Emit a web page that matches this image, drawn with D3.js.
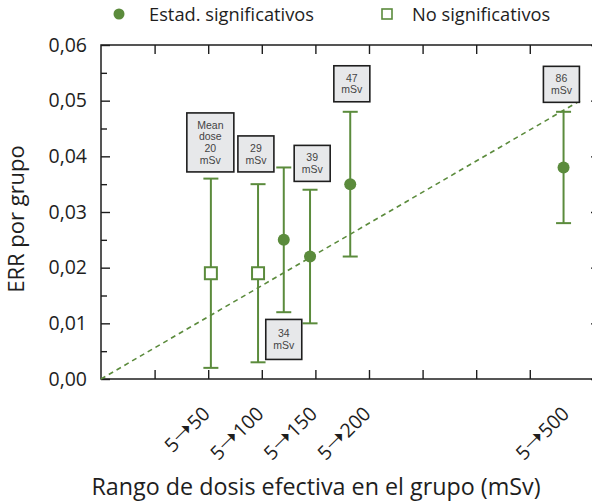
<!DOCTYPE html>
<html>
<head>
<meta charset="utf-8">
<script src="https://cdn.jsdelivr.net/npm/d3@7/dist/d3.min.js"></script>
<style>
  html, body { margin: 0; padding: 0; background: #fff; }
  svg { display: block; font-family: "Open Sans", "Noto Sans", sans-serif; }
</style>
</head>
<body>
<svg id="chart" width="592" height="504"></svg>
<script>
// ---- data ----
const doseMean   = [20.5, 29.3, 34.1, 39.0, 46.5, 86.3];    // mSv, x position of each group
const errValue   = [0.019, 0.019, 0.025, 0.022, 0.035, 0.038];
const errLow     = [0.002, 0.003, 0.012, 0.010, 0.022, 0.028];
const errHigh    = [0.036, 0.035, 0.038, 0.034, 0.048, 0.048];
const significant = [false, false, true, true, true, true];

const boxText    = [["Mean", "dose", "20", "mSv"], ["29", "mSv"], ["34", "mSv"], ["39", "mSv"], ["47", "mSv"], ["86", "mSv"]];
const boxX       = [20.4, 28.9, 34.1, 39.4, 46.8, 85.9];
const boxEdgeY   = [0.0372, 0.0372, 0.0107, 0.0355, 0.0498, 0.0497];
const boxBelow   = [false, false, true, false, false, false];

const rangeFrom     = ["5", "5", "5", "5", "5"];
const rangeTo       = ["50", "100", "150", "200", "500"];
const rangeLabelPos = [20, 30, 40, 50, 87];

const yTicks      = [0, 0.01, 0.02, 0.03, 0.04, 0.05, 0.06];
const yMinorTicks = [0.005, 0.015, 0.025, 0.035, 0.045, 0.055];
const xTicks      = [10, 20, 30, 40, 50, 60, 70, 80];
const trendLine   = [[0, 0], [89.4, 0.05]];

const legendItems = ["Estad. significativos", "No significativos"];
const yTitle = "ERR por grupo";
const xTitle = "Rango de dosis efectiva en el grupo (mSv)";

// ---- layout ----
const green = "#5b8b3c";
const ink = "#1e1e1e";
const svg = d3.select("#chart");
const L = 101, R = 600, T = 45, B = 379;
const x = d3.scaleLinear().domain([0, 93.1]).range([L, R]);
const y = d3.scaleLinear().domain([0, 0.06]).range([B, T]);
const fmt = d => d3.format(".2f")(d).replace(".", ",");

// frame
svg.append("rect").attr("x", L).attr("y", T).attr("width", R - L).attr("height", B - T)
  .attr("fill", "none").attr("stroke", ink).attr("stroke-width", 1.5);

// axes ticks (inward)
const tickStyle = g => g.call(s => s.select(".domain").remove())
  .call(s => s.selectAll("line").attr("stroke", ink).attr("stroke-width", 1.4));
svg.append("g").attr("transform", `translate(${L},0)`)
  .call(d3.axisRight(y).tickValues(yTicks).tickSize(9).tickFormat(""))
  .call(tickStyle);
svg.append("g").attr("transform", `translate(${L},0)`)
  .call(d3.axisRight(y).tickValues(yMinorTicks).tickSize(6).tickFormat(""))
  .call(tickStyle);
svg.append("g").attr("transform", `translate(${R},0)`)
  .call(d3.axisLeft(y).tickValues(yTicks).tickSize(9).tickFormat(""))
  .call(tickStyle);
svg.append("g").attr("transform", `translate(${R},0)`)
  .call(d3.axisLeft(y).tickValues(yMinorTicks).tickSize(6).tickFormat(""))
  .call(tickStyle);
svg.append("g").attr("transform", `translate(0,${B})`)
  .call(d3.axisTop(x).tickValues(xTicks).tickSize(9).tickFormat(""))
  .call(tickStyle);
svg.append("g").attr("transform", `translate(0,${T})`)
  .call(d3.axisBottom(x).tickValues(xTicks).tickSize(9).tickFormat(""))
  .call(tickStyle);

// y tick labels
const yAx = svg.append("g").attr("transform", `translate(${L},0)`)
  .call(d3.axisLeft(y).tickValues(yTicks).tickSize(0).tickPadding(14).tickFormat(fmt));
yAx.select(".domain").remove();
yAx.selectAll("text").attr("font-family", "Open Sans").attr("font-size", 19.5).attr("fill", ink);

// x range labels (from -> to)
const xl = svg.append("g").selectAll("text").data(rangeTo).join("text")
  .attr("transform", (d, i) => `translate(${x(rangeLabelPos[i]) + 3},${B + 36}) rotate(-45)`)
  .attr("text-anchor", "end").attr("font-size", 19.5).attr("fill", ink);
xl.append("tspan").text((d, i) => rangeFrom[i]);
xl.append("tspan").attr("font-family", "DejaVu Sans").attr("font-size", 25).attr("dx", 0)
  .text("\u279D");
xl.append("tspan").attr("dx", 0).text(d => d);

// titles
svg.append("text").attr("transform", `translate(24,219) rotate(-90)`)
  .attr("text-anchor", "middle").attr("font-size", 22).attr("fill", ink).text(yTitle);
svg.append("text").attr("x", 316).attr("y", 495)
  .attr("text-anchor", "middle").attr("font-size", 23.3).attr("fill", ink).text(xTitle);

// trend line
svg.append("path").datum(trendLine)
  .attr("d", d3.line().x(d => x(d[0])).y(d => y(d[1])))
  .attr("fill", "none").attr("stroke", green).attr("stroke-width", 1.6)
  .attr("stroke-dasharray", "5,4");

// error bars
const idx = d3.range(doseMean.length);
const eb = svg.append("g").attr("stroke", green).attr("stroke-width", 2);
eb.selectAll(".v").data(idx).join("line")
  .attr("x1", i => x(doseMean[i])).attr("x2", i => x(doseMean[i]))
  .attr("y1", i => y(errLow[i])).attr("y2", i => y(errHigh[i]));
eb.selectAll(".ct").data(idx).join("line")
  .attr("x1", i => x(doseMean[i]) - 7.5).attr("x2", i => x(doseMean[i]) + 7.5)
  .attr("y1", i => y(errHigh[i])).attr("y2", i => y(errHigh[i]));
eb.selectAll(".cb").data(idx).join("line")
  .attr("x1", i => x(doseMean[i]) - 7.5).attr("x2", i => x(doseMean[i]) + 7.5)
  .attr("y1", i => y(errLow[i])).attr("y2", i => y(errLow[i]));

// markers
svg.append("g").selectAll("circle").data(idx.filter(i => significant[i])).join("circle")
  .attr("cx", i => x(doseMean[i])).attr("cy", i => y(errValue[i])).attr("r", 6)
  .attr("fill", green);
svg.append("g").selectAll("rect").data(idx.filter(i => !significant[i])).join("rect")
  .attr("x", i => x(doseMean[i]) - 6).attr("y", i => y(errValue[i]) - 6)
  .attr("width", 12).attr("height", 12)
  .attr("fill", "#fff").attr("stroke", green).attr("stroke-width", 2);

// annotation boxes
const lineH = 11.8;
idx.forEach(i => {
  const lines = boxText[i];
  const w = lines.length > 2 ? 47 : 36;
  const h = lines.length > 2 ? 59 : (boxBelow[i] ? 40 : 36);
  const cx = x(boxX[i]);
  const yTop = boxBelow[i] ? y(boxEdgeY[i]) : y(boxEdgeY[i]) - h;
  const g = svg.append("g");
  g.append("rect").attr("x", cx - w / 2).attr("y", yTop).attr("width", w).attr("height", h)
    .attr("fill", "#e7e8ea").attr("stroke", ink).attr("stroke-width", 1.6);
  const y0 = yTop + h / 2 - (lines.length - 1) * lineH / 2;
  const t = g.append("text").attr("text-anchor", "middle")
    .attr("font-family", "Liberation Sans").attr("font-size", 10.5).attr("fill", "#444");
  t.selectAll("tspan").data(lines).join("tspan")
    .attr("x", cx).attr("y", (d, k) => y0 + k * lineH + 3.8).text(d => d);
});

// legend
const lg = svg.append("g");
lg.append("circle").attr("cx", 119).attr("cy", 14).attr("r", 5.5).attr("fill", green);
lg.append("text").attr("x", 149).attr("y", 21).attr("font-size", 18.3).attr("fill", ink).text(legendItems[0]);
lg.append("rect").attr("x", 382).attr("y", 9).attr("width", 10).attr("height", 10)
  .attr("fill", "#fff").attr("stroke", green).attr("stroke-width", 1.6);
lg.append("text").attr("x", 412).attr("y", 21).attr("font-size", 18.3).attr("fill", ink).text(legendItems[1]);
</script>
</body>
</html>
